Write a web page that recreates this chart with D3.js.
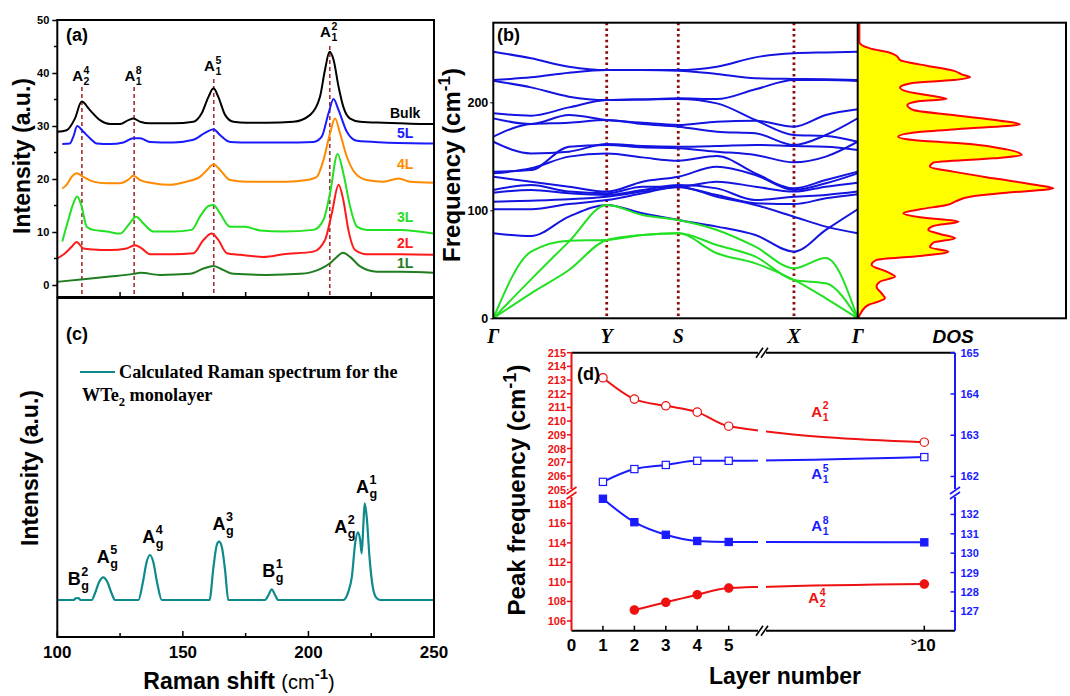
<!DOCTYPE html>
<html>
<head>
<meta charset="utf-8">
<script src="https://cdn.jsdelivr.net/npm/d3@7"></script>
<style>
  body { margin: 0; background: #fff; }
  svg { font-family: "Liberation Sans", Arial, sans-serif; font-weight: bold; }
</style>
</head>
<body>
<svg id="chart" width="1070" height="696"></svg>
<script>
// ---------- (a) measured Raman spectra: [shift cm-1, intensity a.u.]
const specBulk = [[100,28.9],[103.7,29.2],[107,31.4],[109.7,34.6],[113,33],[117,31.1],[121,30.4],[125,30.4],[128.3,31.1],[130.3,31.4],[133,30.8],[136.9,30.5],[146.2,30.5],[154.2,30.8],[157.5,32.4],[160.2,35.5],[162.2,37.1],[164.1,35.5],[166.8,32.1],[170.1,30.8],[175.4,30.6],[183.4,30.6],[194,30.8],[200.7,32.1],[204.6,35.5],[206.6,40.6],[208.4,44],[210,42.5],[212,37.4],[213.9,33.6],[216.6,31.4],[220.6,30.8],[229.9,30.6],[236.5,30.5],[244.5,30.4],[249.8,30.4]];
const spec5L = [[102,26.6],[105,26.7],[106.4,28],[107.9,30],[110.4,28.9],[113,27.7],[115.7,26.7],[121,26.6],[126.3,26.9],[130.3,27.7],[133,27.7],[136.9,27],[146.2,26.9],[154.2,27.4],[158.8,28.7],[162.2,29.4],[164.8,28.3],[168.8,27],[176.8,26.9],[190,26.9],[202,27],[205.3,28],[208,32.4],[210,35.1],[212,33],[215.3,28.9],[219.3,27.2],[229.9,26.9],[249.8,26.7]];
const spec4L = [[102,18.2],[103.7,18.9],[105.7,20.4],[107.7,21.1],[110.4,20.4],[114.3,19.5],[119.7,19.2],[125,19.2],[128.3,19.9],[130.3,20.6],[133,19.8],[138.2,19.2],[144.9,18.9],[151.5,19.5],[156.8,20.4],[160.2,22],[162.2,22.8],[164.8,21.7],[168.8,19.8],[175.4,19.5],[183.4,19.5],[191.4,19.5],[199.3,19.8],[203.3,20.4],[206,23.6],[208.6,28.6],[210.6,31.4],[212.6,28.6],[215.3,24.2],[218.6,21.1],[223.2,19.8],[229.9,19.5],[235.9,20.1],[240.5,19.5],[249.8,19.3]];
const spec3L = [[102,8.2],[104.4,12.3],[106.4,15.4],[107.9,16.7],[109.7,14.8],[111.7,11],[114.3,10.4],[119.7,10.1],[125,9.7],[128.3,11.3],[131.4,12.9],[134.3,11.6],[138.2,10.1],[146.2,10.1],[153.5,10.4],[156.8,12.9],[160.2,14.9],[162.2,15.1],[164.8,13.5],[168.8,11],[174.8,11],[180.7,10.3],[190,10.1],[202,10.4],[206,12.3],[208.6,17.3],[211.6,24.7],[213.9,21.1],[216.6,14.8],[219.3,11],[223.2,10.4],[236.5,10.4],[249.8,9.7]];
const spec2L = [[100,5],[103.1,6],[105.7,7.2],[107.7,8.1],[110.4,6.9],[114.3,6.7],[121,6.6],[127.6,6.9],[130.9,7.5],[133.6,6.9],[136.9,5.8],[146.2,5.8],[154.2,6],[158.2,8.5],[161.5,9.7],[164.1,8.5],[167.5,6],[172.8,5.7],[182.1,5.3],[190,5.8],[202,6.3],[206.6,8.5],[209.3,13.5],[212,18.9],[213.9,16],[215.9,10.4],[218.6,6.6],[223.2,5.8],[236.5,5.8],[249.8,5.7]];
const spec1L = [[100,0.6],[110.4,1.1],[121,1.6],[130.3,2.1],[133,2.3],[140.9,1.9],[152.9,2.1],[158.2,3.1],[162.2,3.6],[166.2,2.8],[170.1,2.1],[183.4,1.9],[196.7,2.1],[204.6,3],[208.6,4.1],[211.3,5.3],[213.7,6.1],[216.6,5.3],[220.6,3.5],[227.2,2.5],[236.5,2.5],[249.8,2.3]];
const layerNames = ["Bulk", "5L", "4L", "3L", "2L", "1L"];
const layerColors = ["#000000", "#1a1aff", "#ff8a00", "#22e022", "#ff1a1a", "#1e7d1e"];
const peakShiftA = [109.8, 130.6, 162.3, 208.5];
const peakSubA = ["2", "1", "1", "1"];
const peakSupA = ["4", "8", "5", "2"];
const intensityTicks = [0, 10, 20, 30, 40, 50];
const ramanTicks = [100, 150, 200, 250];

// ---------- (b) phonon bands (cm-1) sampled along Γ-Y-S-X-Γ
const kNodes = [0, 1, 1.631, 2.651, 3.213];
const kNames = ["Γ", "Y", "S", "X", "Γ"];
const kSample = [0, 0.333, 0.667, 1, 1.316, 1.631, 1.971, 2.311, 2.651, 2.932, 3.213];
const opticalBands = [
  [246.9, 240.7, 233.0, 229.9, 229.9, 229.9, 233.0, 241.6, 245.3, 246.2, 246.9],
  [220.6, 223.1, 227.4, 229.9, 229.9, 229.3, 226.2, 222.2, 221.6, 221.3, 220.6],
  [220.0, 213.8, 205.2, 202.1, 202.7, 203.7, 203.0, 212.0, 220.6, 220.6, 219.7],
  [189.8, 187.6, 195.3, 202.1, 202.7, 203.0, 199.0, 183.6, 169.7, 168.8, 163.5],
  [185.1, 179.9, 188.2, 183.6, 181.1, 179.0, 182.1, 183.0, 177.4, 188.2, 193.5],
  [168.2, 179.9, 181.1, 183.6, 179.9, 177.4, 172.8, 171.3, 160.5, 169.7, 185.1],
  [163.5, 152.7, 154.3, 161.4, 159.5, 158.9, 159.5, 160.5, 159.5, 158.9, 155.8],
  [135.8, 137.3, 158.9, 160.5, 158.3, 157.4, 154.3, 151.2, 144.4, 149.7, 163.5],
  [134.2, 138.9, 149.7, 152.7, 149.0, 145.9, 150.3, 134.2, 120.3, 128.1, 135.8],
  [131.1, 126.5, 121.9, 117.3, 126.5, 131.1, 140.4, 132.7, 118.8, 125.0, 134.2],
  [118.8, 123.4, 117.3, 115.7, 121.9, 121.9, 126.5, 121.9, 117.3, 121.9, 125.6],
  [116.3, 118.8, 115.7, 114.2, 118.8, 123.4, 120.3, 109.5, 112.6, 114.2, 117.3],
  [108.0, 108.9, 110.2, 112.6, 117.3, 121.4, 114.2, 106.5, 105.8, 111.1, 114.8],
  [100.9, 100.9, 105.8, 109.5, 115.7, 121.9, 112.6, 104.9, 94.1, 84.9, 78.7],
  [78.7, 76.2, 94.1, 104.9, 97.2, 91.0, 84.9, 77.1, 61.7, 81.8, 100.9]
];
const acousticBands = [
  [0, 36.0, 71.0, 104.9, 95.6, 91.0, 81.8, 66.3, 46.3, 55.8, 0],
  [0, 61.7, 71.9, 72.5, 77.1, 78.7, 67.9, 57.1, 35.5, 32.4, 0],
  [0, 23.1, 44.7, 72.5, 77.1, 78.7, 60.2, 50.9, 35.5, 18.5, 0]
];
const freqTicks = [0, 100, 200];
const dosFreq = [0,6.2,12.3,15.4,18.5,23.1,29.3,33.9,38.6,43.2,49.4,54.0,57.7,61.7,65.7,70.0,74.1,78.1,81.8,85.5,89.5,93.5,97.2,100.9,104.9,108.6,112.6,116.3,120.3,123.4,129.6,135.8,140.4,144.1,148.1,151.2,156.4,161.4,165.1,168.2,172.2,175.9,179.6,183.0,188.2,192.9,197.5,201.2,203.0,206.7,210.1,213.8,217.5,220.6,223.1,225.3,229.3,233.9,236.7,239.1,242.9,245.9,249.9,253.0,256.1,273.1];
const dosVal = [0,0.016,0.048,0.096,0.128,0.112,0.088,0.104,0.177,0.136,0.064,0.088,0.297,0.433,0.345,0.361,0.466,0.393,0.337,0.361,0.482,0.297,0.217,0.297,0.425,0.473,0.538,0.714,0.939,0.859,0.650,0.457,0.345,0.361,0.650,0.787,0.714,0.538,0.265,0.193,0.281,0.538,0.778,0.682,0.457,0.265,0.236,0.297,0.425,0.329,0.233,0.201,0.249,0.457,0.538,0.506,0.457,0.329,0.249,0.201,0.185,0.152,0.056,0.016,0.005,0.005];

// ---------- (c) calculated spectrum of the monolayer
const specCalc = [[100,0],[106.4,0],[107.4,0.17],[108.4,0.2],[109.3,0],[113.7,0],[115,0.67],[116.7,1.83],[118.3,2.27],[119.9,1.83],[121.6,0.67],[123,0],[132.3,0],[134,1.67],[135.6,3.83],[136.9,4.5],[138.2,3.83],[139.8,1.67],[141.6,0],[160.6,0],[162.2,3.33],[163.5,5.5],[164.4,5.83],[165.5,5.33],[166.8,3.0],[168.1,0],[182.7,0],[184.1,0.5],[185.4,1.07],[186.7,0.5],[188,0],[213.9,0],[215.9,0.83],[217.3,2.33],[218.6,5.67],[219.7,6.77],[220.6,6.0],[221.2,4.67],[221.9,7.67],[222.4,9.67],[223.2,8.33],[224.3,4.33],[225.6,1.33],[227.2,0.17],[228.6,0],[249.8,0]];
const modeBase = ["B", "A", "A", "A", "B", "A", "A"];
const modeSup = ["2", "5", "4", "3", "1", "2", "1"];
const modeShift = [108.4, 118.3, 136.9, 164.4, 185.4, 219.7, 222.4];
const modeTop = [0.2, 2.27, 4.5, 5.83, 1.07, 6.77, 9.67];

// ---------- (d) peak frequency vs layer number
const layerX = [1, 2, 3, 4, 5, 10];
const layerTickX = [0, 1, 2, 3, 4, 5, 10];
const freqA12 = [213.17, 211.61, 211.12, 210.66, 209.63, 208.46];
const freqA15 = [161.87, 162.18, 162.28, 162.38, 162.38, 162.47];
const freqA18 = [132.81, 131.6, 130.95, 130.63, 130.58, 130.56];
const freqA24 = [null, 107.12, 107.91, 108.69, 109.37, 109.78];

const svg = d3.select("#chart");
const RED = "#ee1111", BLUE = "#1a1aff";

// base letter + stacked superscript / subscript, centred on x
function modeLabel(parent, x, y, base, sup, sub, size, color) {
  const g = parent.append("g").attr("fill", color).attr("font-size", size);
  const t = g.append("text").attr("y", 0).text(base);
  const w = t.node().getComputedTextLength();
  g.append("text").attr("x", w + 0.5).attr("y", -size * 0.5).attr("font-size", size * 0.7).text(sup);
  g.append("text").attr("x", w + 0.5).attr("y", size * 0.28).attr("font-size", size * 0.7).text(sub);
  const bw = g.node().getBBox().width;
  g.attr("transform", `translate(${x - bw / 2},${y})`);
}

// ================= panel (a)
const xA = d3.scaleLinear().domain([100, 250]).range([57.3, 434]);
const yA = d3.scaleLinear().domain([0, 50]).range([285, 20]);
const gA = svg.append("g");
const lineA = d3.line().x(d => xA(d[0])).y(d => yA(d[1])).curve(d3.curveMonotoneX);

peakShiftA.forEach((s, i) => {
  const top = [87, 87, 79, 46][i];
  gA.append("line").attr("x1", xA(s)).attr("x2", xA(s)).attr("y1", top).attr("y2", 296)
    .attr("stroke", "#a33030").attr("stroke-width", 1.6).attr("stroke-dasharray", "4,3");
});
[specBulk, spec5L, spec4L, spec3L, spec2L, spec1L].forEach((spec, i) => {
  gA.append("path").datum(spec).attr("d", lineA).attr("fill", "none")
    .attr("stroke", layerColors[i]).attr("stroke-width", 2);
});
const layerLabelPos = [[390, 118], [397, 138], [397, 169], [397, 222], [397, 248], [397, 268]];
layerNames.forEach((n, i) => {
  gA.append("text").attr("x", layerLabelPos[i][0]).attr("y", layerLabelPos[i][1])
    .attr("font-size", 14).attr("fill", layerColors[i]).text(n);
});
const peakLabelY = [81, 81, 71, 37];
peakShiftA.forEach((s, i) => modeLabel(gA, xA(s) - 1, peakLabelY[i], "A", peakSupA[i], peakSubA[i], 15, "#000"));

gA.append("rect").attr("x", 57.3).attr("y", 20).attr("width", 434 - 57.3).attr("height", 277)
  .attr("fill", "none").attr("stroke", "#000").attr("stroke-width", 2);
const axA = gA.append("g").attr("transform", "translate(57.3,0)")
  .call(d3.axisLeft(yA).tickValues(intensityTicks).tickSize(5).tickPadding(3));
axA.select(".domain").remove();
axA.selectAll("line").attr("stroke-width", 1.5);
axA.selectAll("text").attr("font-size", 11).attr("font-family", null);
d3.range(5, 50, 10).forEach(v => gA.append("line").attr("x1", 54).attr("x2", 57.3)
  .attr("y1", yA(v)).attr("y2", yA(v)).attr("stroke", "#000").attr("stroke-width", 1.5));
d3.range(125, 250, 25).forEach(v => gA.append("line").attr("x1", xA(v)).attr("x2", xA(v))
  .attr("y1", 297).attr("y2", 292).attr("stroke", "#000").attr("stroke-width", 1.5));
gA.append("text").attr("x", 66).attr("y", 41).attr("font-size", 18).text("(a)");
gA.append("text").attr("transform", "translate(30,156) rotate(-90)").attr("text-anchor", "middle")
  .attr("font-size", 23).text("Intensity (a.u.)");

// ================= panel (c)
const yC = d3.scaleLinear().domain([0, 10]).range([600, 500]);
const gC = svg.append("g");
gC.append("path").datum(specCalc).attr("d", d3.line().x(d => xA(d[0])).y(d => yC(d[1])).curve(d3.curveMonotoneX))
  .attr("fill", "none").attr("stroke", "#0e8a8a").attr("stroke-width", 2.2);
const modeNudge = [[0, -13], [4, -14], [3, -12], [4, -12], [1, -12], [-13, 1], [2, -10]];
modeShift.forEach((s, i) => modeLabel(gC, xA(s) + modeNudge[i][0], yC(modeTop[i]) + modeNudge[i][1],
  modeBase[i], modeSup[i], "g", 18, "#000"));
gC.append("rect").attr("x", 57.3).attr("y", 298).attr("width", 434 - 57.3).attr("height", 339)
  .attr("fill", "none").attr("stroke", "#000").attr("stroke-width", 2);
d3.range(100, 251, 25).forEach(v => gC.append("line").attr("x1", xA(v)).attr("x2", xA(v))
  .attr("y1", 637).attr("y2", v % 50 === 0 ? 631 : 633).attr("stroke", "#000").attr("stroke-width", 1.5));
ramanTicks.forEach(v => gC.append("text").attr("x", xA(v)).attr("y", 658).attr("text-anchor", "middle")
  .attr("font-size", 17).text(v));
gC.append("text").attr("x", 66).attr("y", 340).attr("font-size", 18).text("(c)");
gC.append("line").attr("x1", 80).attr("x2", 115).attr("y1", 372).attr("y2", 372)
  .attr("stroke", "#0e8a8a").attr("stroke-width", 2.2);
gC.append("text").attr("x", 119).attr("y", 378).attr("font-family", "'Liberation Serif', serif")
  .attr("font-size", 18.2).text("Calculated Raman spectrum for the");
const leg2 = gC.append("text").attr("x", 82).attr("y", 401).attr("font-family", "'Liberation Serif', serif").attr("font-size", 18.2);
leg2.append("tspan").text("WTe");
leg2.append("tspan").attr("font-size", 12.5).attr("dy", 5).text("2");
leg2.append("tspan").attr("dy", -5).text(" monolayer");
gC.append("text").attr("transform", "translate(38,468) rotate(-90)").attr("text-anchor", "middle")
  .attr("font-size", 23).text("Intensity (a.u.)");
const xt = gC.append("text").attr("x", 239).attr("y", 689).attr("text-anchor", "middle").attr("font-size", 23);
xt.append("tspan").text("Raman shift ");
xt.append("tspan").attr("font-weight", "normal").attr("font-size", 20).text("(cm");
xt.append("tspan").attr("font-size", 15).attr("dy", -10).text("-1");
xt.append("tspan").attr("font-weight", "normal").attr("font-size", 20).attr("dy", 10).text(")");

// ================= panel (b)
const xB = d3.scaleLinear().domain([0, 3.213]).range([493.3, 857.7]);
const yB = d3.scaleLinear().domain([0, 273.7]).range([318.3, 22.7]);
const xDos = d3.scaleLinear().domain([0, 1]).range([858.3, 1066]);
const gB = svg.append("g");
gB.append("clipPath").attr("id", "clipB").append("rect")
  .attr("x", 493.3).attr("y", 22.7).attr("width", 857.7 - 493.3).attr("height", 318.3 - 22.7);
const bandLine = d3.line().x((d, i) => xB(kSample[i])).y(d => yB(d)).curve(d3.curveMonotoneX);
const bands = gB.append("g").attr("clip-path", "url(#clipB)");
kNodes.slice(1, 4).forEach(k => bands.append("line").attr("x1", xB(k)).attr("x2", xB(k))
  .attr("y1", 22.7).attr("y2", 318.3).attr("stroke", "#8b0a0a").attr("stroke-width", 2.8).attr("stroke-dasharray", "2.5,3.2"));
opticalBands.forEach(b => bands.append("path").datum(b).attr("d", bandLine)
  .attr("fill", "none").attr("stroke", "#1414e0").attr("stroke-width", 2));
acousticBands.forEach(b => bands.append("path").datum(b).attr("d", bandLine)
  .attr("fill", "none").attr("stroke", "#22e022").attr("stroke-width", 2));

const dosData = dosFreq.map((f, i) => [f, dosVal[i]]);
gB.append("path").datum(dosData)
  .attr("d", d3.area().y(d => yB(d[0])).x0(xDos(0)).x1(d => xDos(d[1])).curve(d3.curveMonotoneY))
  .attr("fill", "#ffff00");
gB.append("path").datum(dosData)
  .attr("d", d3.line().y(d => yB(d[0])).x(d => xDos(d[1])).curve(d3.curveMonotoneY))
  .attr("fill", "none").attr("stroke", "#ff0000").attr("stroke-width", 2);
gB.append("rect").attr("x", 493.3).attr("y", 22.7).attr("width", 1066 - 493.3).attr("height", 318.3 - 22.7)
  .attr("fill", "none").attr("stroke", "#000").attr("stroke-width", 2);
gB.append("line").attr("x1", 857.7).attr("x2", 857.7).attr("y1", 22.7).attr("y2", 318.3)
  .attr("stroke", "#000").attr("stroke-width", 2);
const axB = gB.append("g").attr("transform", "translate(493.3,0)")
  .call(d3.axisLeft(yB).tickValues(freqTicks).tickSize(3).tickPadding(2));
axB.select(".domain").remove();
axB.selectAll("text").attr("font-size", 12.5).attr("font-family", null);
kNodes.forEach((k, i) => gB.append("text").attr("x", xB(k)).attr("y", 343).attr("text-anchor", "middle")
  .attr("font-family", "'Liberation Serif', serif").attr("font-style", "italic").attr("font-size", 20).text(kNames[i]));
gB.append("text").attr("x", 953).attr("y", 343).attr("text-anchor", "middle").attr("font-style", "italic")
  .attr("font-size", 19).text("DOS");
gB.append("text").attr("x", 497).attr("y", 41).attr("font-size", 18).text("(b)");
const yt = gB.append("text").attr("transform", "translate(460,165) rotate(-90)").attr("text-anchor", "middle").attr("font-size", 24);
yt.append("tspan").text("Frequency (cm");
yt.append("tspan").attr("font-size", 17).attr("dy", -10).text("-1");
yt.append("tspan").attr("dy", 10).text(")");

// ================= panel (d)
const xD = d3.scaleLinear().domain([0, 5, 10, 11]).range([571.5, 728.7, 924.3, 955.7]);
const yUL = d3.scaleLinear().domain([204.75, 215]).range([493, 352.7]);
const yUR = d3.scaleLinear().domain([161.6, 165]).range([493, 352.7]);
const yLL = d3.scaleLinear().domain([105, 118.7]).range([630.7, 497]);
const yLR = d3.scaleLinear().domain([126, 132.9]).range([630.7, 497]);
const gD = svg.append("g");

const series = [
  { v: freqA12, y: yUL, c: RED, sym: "circle", fill: "#fff" },
  { v: freqA15, y: yUR, c: BLUE, sym: "square", fill: "#fff" },
  { v: freqA18, y: yLR, c: BLUE, sym: "square", fill: BLUE },
  { v: freqA24, y: yLL, c: RED, sym: "circle", fill: RED }
];
series.forEach(s => {
  const pts = layerX.map((x, i) => [x, s.v[i]]).filter(p => p[1] !== null);
  gD.append("path").datum(pts)
    .attr("d", d3.line().x(p => xD(p[0])).y(p => s.y(p[1])).curve(d3.curveMonotoneX))
    .attr("fill", "none").attr("stroke", s.c).attr("stroke-width", 2);
  s.pts = pts;
});
// gap in the curves at the axis break
gD.append("rect").attr("x", 758).attr("y", 348).attr("width", 8).attr("height", 287).attr("fill", "#fff");
series.forEach(s => {
  s.pts.forEach(p => {
    const cx = xD(p[0]), cy = s.y(p[1]);
    if (s.sym === "circle") {
      gD.append("circle").attr("cx", cx).attr("cy", cy).attr("r", 4.2)
        .attr("fill", s.fill).attr("stroke", s.c).attr("stroke-width", 1.2);
    } else {
      gD.append("rect").attr("x", cx - 3.6).attr("y", cy - 3.6).attr("width", 7.2).attr("height", 7.2)
        .attr("fill", s.fill).attr("stroke", s.c).attr("stroke-width", 1.2);
    }
  });
});

// frame
gD.append("line").attr("x1", 571.5).attr("x2", 955).attr("y1", 352.7).attr("y2", 352.7).attr("stroke", "#000").attr("stroke-width", 2);
gD.append("line").attr("x1", 571.5).attr("x2", 955).attr("y1", 630.7).attr("y2", 630.7).attr("stroke", "#000").attr("stroke-width", 2);
gD.append("line").attr("x1", 571.5).attr("x2", 571.5).attr("y1", 352.7).attr("y2", 630.7).attr("stroke", RED).attr("stroke-width", 2);
gD.append("line").attr("x1", 955).attr("x2", 955).attr("y1", 352.7).attr("y2", 630.7).attr("stroke", BLUE).attr("stroke-width", 2);

function yTicks(scale, values, x, color, side) {
  values.forEach(v => {
    const y = scale(v);
    gD.append("line").attr("x1", x - 4.5).attr("x2", x).attr("y1", y).attr("y2", y).attr("stroke", color).attr("stroke-width", 1.5);
    gD.append("text").attr("x", side === "left" ? x - 5.5 : x + 5.5).attr("y", y + 4)
      .attr("text-anchor", side === "left" ? "end" : "start").attr("font-size", 11).attr("fill", color).text(v);
  });
}
yTicks(yUL, d3.range(205, 216), 571.5, RED, "left");
yTicks(yLL, d3.range(106, 119, 2), 571.5, RED, "left");
yTicks(yUR, d3.range(162, 166), 955, BLUE, "right");
yTicks(yLR, d3.range(127, 133), 955, BLUE, "right");

// axis breaks
function breakMark(x, y, color, horizontal) {
  if (horizontal) {
    gD.append("rect").attr("x", x - 4).attr("y", y - 3).attr("width", 8).attr("height", 6).attr("fill", "#fff");
    [-2.5, 2.5].forEach(o => gD.append("line").attr("x1", x + o - 3.5).attr("x2", x + o + 3.5)
      .attr("y1", y + 5).attr("y2", y - 5).attr("stroke", color).attr("stroke-width", 1.6));
  } else {
    gD.append("rect").attr("x", x - 3).attr("y", y - 4).attr("width", 6).attr("height", 8).attr("fill", "#fff");
    [-2.5, 2.5].forEach(o => gD.append("line").attr("x1", x - 5).attr("x2", x + 5)
      .attr("y1", y + o + 3.5).attr("y2", y + o - 3.5).attr("stroke", color).attr("stroke-width", 1.6));
  }
}
breakMark(762, 352.7, "#000", true);
breakMark(762, 630.7, "#000", true);
breakMark(571.5, 493, RED, false);
breakMark(955, 493, BLUE, false);

layerTickX.forEach(v => {
  if (v > 0) gD.append("line").attr("x1", xD(v)).attr("x2", xD(v)).attr("y1", 630.7).attr("y2", 625.7)
    .attr("stroke", "#000").attr("stroke-width", 1.5);
  if (v === 10) {
    const t = gD.append("text").attr("x", xD(v) - 1).attr("y", 651).attr("text-anchor", "middle").attr("font-size", 17);
    t.append("tspan").attr("font-size", 10).attr("dy", -5).text(">");
    t.append("tspan").attr("dy", 5).text("10");
  } else {
    gD.append("text").attr("x", xD(v)).attr("y", 651).attr("text-anchor", "middle").attr("font-size", 17).text(v);
  }
});
gD.append("text").attr("x", 577).attr("y", 380).attr("font-size", 18).text("(d)");
modeLabel(gD, 820, 416.7, "A", "2", "1", 15, RED);
modeLabel(gD, 820, 479, "A", "5", "1", 15, BLUE);
modeLabel(gD, 820, 531, "A", "8", "1", 15, BLUE);
modeLabel(gD, 817, 603, "A", "4", "2", 15, RED);
const yd = gD.append("text").attr("transform", "translate(525,490) rotate(-90)").attr("text-anchor", "middle").attr("font-size", 24);
yd.append("tspan").text("Peak frequency (cm");
yd.append("tspan").attr("font-size", 18).attr("dy", -9).text("-1");
yd.append("tspan").attr("dy", 9).text(")");
gD.append("text").attr("x", 785).attr("y", 684).attr("text-anchor", "middle").attr("font-size", 23).text("Layer number");
</script>
</body>
</html>
